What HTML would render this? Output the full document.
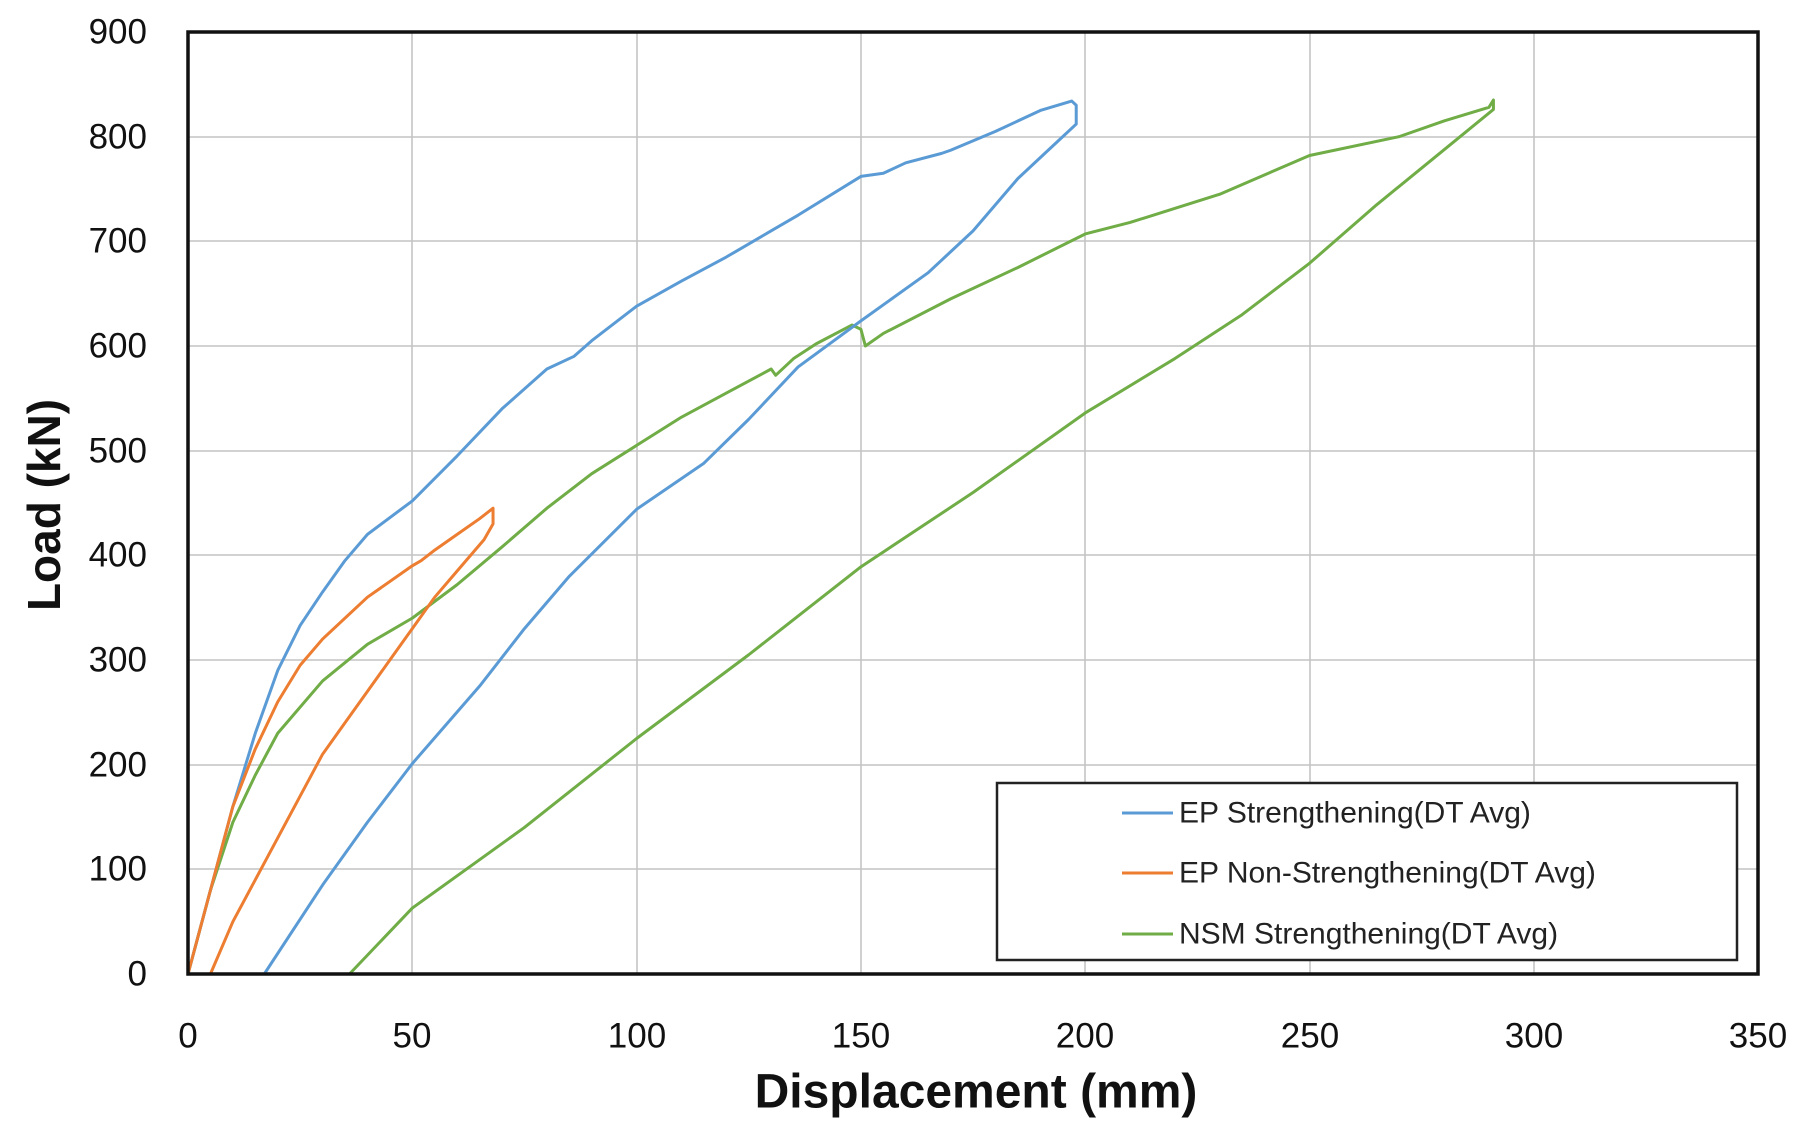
<!DOCTYPE html>
<html><head><meta charset="utf-8"><style>html,body{margin:0;padding:0;background:#fff}</style></head>
<body>
<svg width="1812" height="1130" xmlns="http://www.w3.org/2000/svg" font-family="Liberation Sans, sans-serif">
<rect width="1812" height="1130" fill="#fff"/>
<g stroke="#c4c4c4" stroke-width="1.6">
<line x1="188" y1="137" x2="1758" y2="137"/><line x1="188" y1="241" x2="1758" y2="241"/>
<line x1="188" y1="346" x2="1758" y2="346"/><line x1="188" y1="451" x2="1758" y2="451"/>
<line x1="188" y1="555" x2="1758" y2="555"/><line x1="188" y1="660" x2="1758" y2="660"/>
<line x1="188" y1="765" x2="1758" y2="765"/><line x1="188" y1="869" x2="1758" y2="869"/>
<line x1="412" y1="32" x2="412" y2="974"/><line x1="637" y1="32" x2="637" y2="974"/>
<line x1="861" y1="32" x2="861" y2="974"/><line x1="1085" y1="32" x2="1085" y2="974"/>
<line x1="1310" y1="32" x2="1310" y2="974"/><line x1="1534" y1="32" x2="1534" y2="974"/>
</g>
<g transform="translate(188,974) scale(4.486,-1.0467)" fill="none" stroke-width="3" stroke-linejoin="round">
<polyline vector-effect="non-scaling-stroke" stroke="#70ad47" points="0,0 5,80 10,145 15,190 20,230 30,280 40,315 50,340 60,372 70,408 80,445 90,478 100,505 110,532 120,555 130,578 131,572 135,588 140,602 148,620 150,616 151,600 155,612 170,645 185,675 200,707 210,718 230,745 250,782 270,800 280,815 290,828 291,835 291,826 285,805 275,770 265,735 250,679 235,630 220,588 200,536 175,460 150,389 125,305 100,225 75,140 50,63 36,0"/>
<polyline vector-effect="non-scaling-stroke" stroke="#5b9bd5" points="0,0 5,80 10,160 15,230 20,290 25,333 30,365 35,395 40,420 50,452 60,495 70,540 80,578 86,590 90,605 100,638 110,662 120,685 122,690 130,710 136,725 150,762 155,765 160,775 168,784 170,787 180,805 190,825 197,834 198,830 198,812 195,800 185,760 175,710 165,670 150,624 136,580 125,530 115,488 100,444 85,380 75,330 65,275 50,201 40,145 30,85 17,0"/>
<polyline vector-effect="non-scaling-stroke" stroke="#ed7d31" points="0,0 5,80 10,160 15,215 20,260 25,295 30,320 40,360 50,390 52,395 55,405 60,420 65,435 68,445 68,430 66,415 60,385 55,360 50,330 45,300 40,270 35,240 30,210 25,170 20,130 15,90 10,50 5,0"/>
</g>
<rect x="188" y="32" width="1570" height="942" fill="none" stroke="#111" stroke-width="3.5"/>
<rect x="997" y="783" width="740" height="177" fill="#fff" stroke="#222" stroke-width="2.5"/>
<g stroke-width="3"><line x1="1122" y1="813" x2="1173" y2="813" stroke="#5b9bd5"/>
<line x1="1122" y1="873" x2="1173" y2="873" stroke="#ed7d31"/>
<line x1="1122" y1="934" x2="1173" y2="934" stroke="#70ad47"/></g>
<g font-size="30" fill="#222" dominant-baseline="central">
<text x="1179" y="813">EP Strengthening(DT Avg)</text>
<text x="1179" y="873">EP Non-Strengthening(DT Avg)</text>
<text x="1179" y="934">NSM Strengthening(DT Avg)</text></g>
<g font-size="35" fill="#111" text-anchor="end" dominant-baseline="central">
<text x="147" y="32">900</text><text x="147" y="137">800</text><text x="147" y="241">700</text>
<text x="147" y="346">600</text><text x="147" y="451">500</text><text x="147" y="555">400</text>
<text x="147" y="660">300</text><text x="147" y="765">200</text><text x="147" y="869">100</text>
<text x="147" y="974">0</text></g>
<g font-size="35" fill="#111" text-anchor="middle" dominant-baseline="central">
<text x="188" y="1036">0</text><text x="412" y="1036">50</text><text x="637" y="1036">100</text>
<text x="861" y="1036">150</text><text x="1085" y="1036">200</text><text x="1310" y="1036">250</text>
<text x="1534" y="1036">300</text><text x="1758" y="1036">350</text></g>
<text x="976" y="1092" font-size="48" font-weight="bold" text-anchor="middle" dominant-baseline="central" fill="#111">Displacement (mm)</text>
<text transform="translate(44,505) rotate(-90)" font-size="46" font-weight="bold" text-anchor="middle" dominant-baseline="central" fill="#111">Load (kN)</text>
</svg>
</body></html>
